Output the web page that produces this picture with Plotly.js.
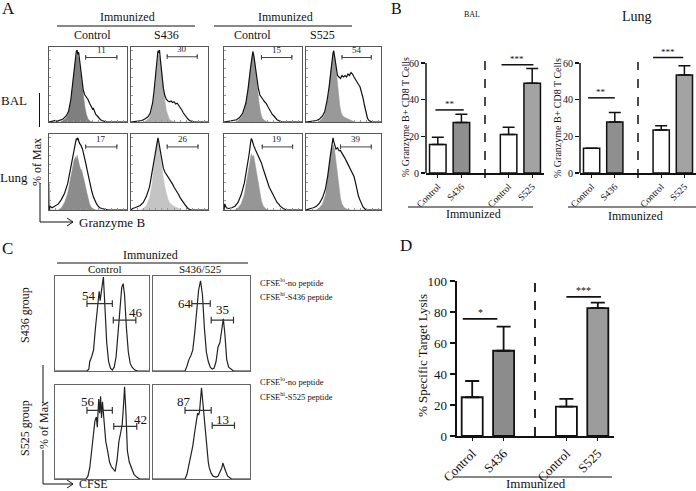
<!DOCTYPE html>
<html><head><meta charset="utf-8">
<script src="https://cdn.plot.ly/plotly-3.0.1.min.js"></script>
<style>html,body{margin:0;padding:0;background:#fff}#chart{width:696px;height:491px}</style>
</head><body><div id="chart"></div>
<script>
// ---------- Panel A: Granzyme B histograms, points = [position across plot %, % of max] ----------
const aBalCtrl1Shaded = [[0,0],[15,0],[18,2],[22,5],[25,12],[28,28],[30,45],[32,65],[34,82],[36,92],[38,85],[40,70],[42,52],[44,35],[46,20],[48,10],[50,4],[53,1],[56,0],[100,0]];
const aBalCtrl1Line   = [[0,0],[5,1],[8,2],[10,1],[14,2],[18,4],[22,8],[25,14],[28,30],[30,48],[32,70],[34,88],[35,94],[36,96],[37,90],[38,93],[40,76],[42,56],[44,42],[46,36],[48,33],[50,30],[52,25],[54,21],[56,17],[57,18],[58,15],[60,10],[62,8],[64,5],[66,3],[68,2],[70,1],[74,0],[100,0]];
const aBalS436Shaded  = [[0,0],[16,0],[20,2],[24,6],[27,15],[30,35],[32,58],[34,80],[35,88],[36,90],[38,82],[40,65],[42,45],[44,28],[46,15],[48,7],[50,3],[54,1],[58,0],[100,0]];
const aBalS436Line    = [[0,0],[6,1],[10,2],[14,2],[18,4],[22,7],[25,12],[28,25],[30,42],[32,65],[34,88],[35,95],[36,92],[37,96],[38,85],[40,65],[42,45],[44,35],[46,30],[48,28],[50,27],[52,28],[54,26],[56,27],[58,24],[60,25],[62,22],[64,20],[66,16],[68,12],[70,9],[72,6],[74,4],[76,2],[78,1],[82,0],[100,0]];
const aBalCtrl2Shaded = [[0,0],[15,0],[18,2],[22,6],[26,15],[29,30],[32,55],[34,75],[36,88],[37,92],[39,85],[41,65],[43,42],[45,25],[47,12],[49,5],[52,2],[56,0],[100,0]];
const aBalCtrl2Line   = [[0,0],[5,1],[8,1],[12,2],[16,3],[20,6],[24,12],[28,25],[31,45],[34,72],[36,88],[37,94],[38,90],[40,75],[42,58],[44,45],[46,36],[48,32],[50,30],[52,27],[54,25],[56,21],[58,17],[60,14],[62,10],[64,8],[66,5],[68,3],[70,2],[74,0],[100,0]];
const aBalS525Shaded  = [[0,0],[16,0],[20,3],[24,8],[27,18],[30,38],[32,60],[34,80],[36,90],[37,92],[39,82],[41,62],[43,40],[45,22],[47,12],[49,8],[52,6],[56,4],[60,2],[65,0],[100,0]];
const aBalS525Line    = [[0,0],[6,1],[10,2],[14,2],[18,4],[22,8],[25,14],[28,28],[31,48],[34,78],[36,92],[37,95],[38,88],[40,72],[42,62],[44,60],[46,58],[48,62],[50,60],[52,62],[54,60],[56,64],[58,62],[60,66],[62,64],[64,60],[66,56],[68,52],[70,50],[72,47],[74,40],[76,32],[78,22],[80,12],[82,5],[84,2],[88,0],[100,0]];
const aLungCtrl1Shaded= [[0,0],[0.5,35],[1.5,0],[12,0],[16,3],[20,10],[24,22],[27,38],[30,55],[32,65],[34,70],[35,66],[36,72],[38,62],[40,55],[42,52],[44,45],[46,35],[48,25],[50,15],[52,8],[54,4],[56,2],[60,0],[100,0]];
const aLungCtrl1Line  = [[0,0],[1,5],[4,3],[8,5],[12,8],[16,14],[20,22],[24,35],[27,50],[30,65],[32,78],[34,88],[35,94],[36,92],[37,95],[39,88],[41,85],[43,80],[45,72],[47,62],[49,52],[51,42],[53,32],[55,24],[57,17],[59,12],[61,8],[63,5],[65,3],[68,2],[72,1],[76,0],[100,0]];
const aLungS436Shaded = [[0,0],[12,0],[16,2],[20,6],[24,16],[27,32],[29,50],[31,70],[33,85],[34,90],[36,86],[38,72],[40,55],[42,42],[44,30],[46,20],[48,14],[50,10],[54,6],[58,4],[62,2],[66,0],[100,0]];
const aLungS436Line   = [[0,0],[2,2],[5,3],[8,4],[12,6],[16,10],[20,18],[24,30],[27,48],[30,68],[32,82],[34,92],[35,95],[36,90],[38,78],[40,65],[42,55],[44,50],[46,47],[48,44],[50,40],[52,38],[54,34],[56,30],[58,27],[60,24],[62,20],[64,16],[66,12],[68,10],[70,7],[72,4],[74,2],[78,0],[100,0]];
const aLungCtrl2Shaded= [[0,0],[14,0],[18,3],[22,8],[26,20],[29,38],[32,58],[34,70],[35,74],[36,70],[38,72],[40,60],[42,48],[44,35],[46,22],[48,12],[50,6],[53,2],[56,0],[100,0]];
const aLungCtrl2Line  = [[0,0],[1,8],[3,3],[6,2],[10,3],[14,5],[18,10],[22,20],[26,35],[29,52],[32,72],[34,88],[35,94],[36,92],[37,88],[38,85],[40,80],[42,76],[44,72],[46,68],[48,62],[50,55],[52,48],[54,42],[56,36],[58,30],[60,26],[62,22],[64,17],[66,13],[68,10],[70,8],[72,5],[76,2],[80,0],[100,0]];
const aLungS525Shaded = [[0,0],[14,0],[18,3],[22,8],[26,20],[29,40],[31,58],[33,75],[35,85],[36,86],[38,80],[40,65],[42,45],[44,28],[46,15],[48,8],[51,3],[55,1],[60,0],[100,0]];
const aLungS525Line   = [[0,0],[2,1],[6,2],[10,3],[14,5],[18,9],[22,16],[26,28],[29,45],[32,68],[34,85],[35,92],[36,95],[37,90],[38,85],[40,80],[42,82],[44,78],[46,78],[48,75],[50,72],[52,68],[54,64],[56,60],[58,54],[60,50],[62,47],[64,44],[66,36],[68,26],[70,18],[72,13],[74,8],[76,4],[78,2],[80,0],[100,0]];
const aGateLabels = ['11','30','15','54','17','26','19','39'];
const aGateLo = [47,47,48,48,47,47,49,46];
const aGateHi = [87,86,87,87,87,87,88,87];
const aGateY  = [86,87,86,86,83,83,83,83];

// ---------- Panel B: % Granzyme B+ CD8 T cells ----------
const bGroups = [['Control','S436'],['Control','S525']];
const bBalMean  = [15.5, 27.5, 21, 49];
const bBalErr   = [4, 4.5, 4, 8];
const bLungMean = [13.5, 27.8, 23.5, 53.5];
const bLungErr  = [0, 5.2, 2.3, 5];
const bTicks = [0, 20, 40, 60];
const bSigLabels = ['**', '***'];
const bBalSigY  = [34.4, 59];
const bLungSigY = [41, 63];

// ---------- Panel C: CFSE histograms ----------
const cS436Ctrl = [[0,0],[34,0],[36,2],[37,10],[39,15],[41,22],[43,45],[45,68],[47,84],[48,74],[50,88],[51.5,99],[53,70],[55,30],[57,10],[59,3],[61,1],[63,4],[65,15],[67,40],[69,70],[71,88],[72.5,92],[74,80],[76,45],[78,20],[80,8],[82,4],[85,1],[88,0],[100,0]];
const cS436Imm  = [[0,0],[33,0],[35,5],[37,12],[39,16],[41,22],[43,40],[45,65],[47,85],[49,95],[51,80],[53,45],[55,20],[57,10],[59,4],[61,2],[63,3],[65,10],[67,25],[69,30],[71,45],[72.5,55],[74,40],[76,12],[78,4],[80,2],[83,0],[100,0]];
const cS525Ctrl = [[0,0],[33,0],[35,3],[37,12],[39,30],[41,50],[42.5,62],[44,66],[45,55],[46.5,85],[47.5,70],[48.5,88],[49.5,65],[50.5,82],[52,60],[54,40],[56,30],[58,18],[60,13],[62,10],[64,8],[66,20],[68,40],[70,50],[71.5,58],[73,80],[74,98],[75.5,70],[77,30],[79,18],[81,12],[84,5],[87,2],[90,0],[100,0]];
const cS525Imm  = [[0,0],[33,0],[35,5],[38,20],[41,35],[43,50],[45,65],[46,70],[47,68],[48,72],[50,97],[52,75],[54,45],[55,35],[57,18],[58,12],[60,6],[62,3],[65,2],[67,3],[69,7],[71,12],[72,17],[73.5,12],[75,8],[77,3],[79,1],[81,0],[100,0]];
const cGate1Lo = [34,40,34,33], cGate1Hi = [61,59,61,60], cGate1Y = [71,71,73,73];
const cGate2Lo = [62,60,62.5,61], cGate2Hi = [86,83,87,84], cGate2Y = [53.5,53.5,56,57];
const cLabels1 = ['54','64','56','87'], cLabel1X = [36,33,35,32], cLabel1Y = [80,71.5,82,82];
const cLabels2 = ['46','35','42','13'], cLabel2X = [86,72,91,72], cLabel2Y = [62,64.5,63,63];

// ---------- Panel D: % specific target lysis ----------
const dGroups = [['Control','S436'],['Control','S525']];
const dMean = [25, 55, 19, 82.5];
const dErr  = [10.5, 15.5, 5, 3.5];
const dSigLabels = ['*', '***'];
const dSigY = [75.5, 89.7];

// ================= build =================
const W = 696, H = 491;
const px = x => x / W, py = y => 1 - y / H;
const FONT = 'Liberation Serif, Times New Roman, serif';
const layout = {width: W, height: H, margin: {l:0, r:0, t:0, b:0}, showlegend: false,
  paper_bgcolor: '#fff', plot_bgcolor: 'rgba(0,0,0,0)', font: {family: FONT, color: '#111'},
  shapes: [], annotations: []};
const traces = [];
let axN = 0;
function addAxes(x0, x1, y0, y1, xo, yo) {
  axN++;
  const s = axN === 1 ? '' : String(axN);
  layout['xaxis' + s] = Object.assign({domain: [px(x0), px(x1)], anchor: 'y' + s, fixedrange: true}, xo);
  layout['yaxis' + s] = Object.assign({domain: [py(y1), py(y0)], anchor: 'x' + s, fixedrange: true}, yo);
  return {x: 'x' + s, y: 'y' + s};
}
function txt(t, x, y, size, opt) {
  layout.annotations.push(Object.assign({text: t, x: px(x), y: py(y), xref: 'paper', yref: 'paper',
    xanchor: 'center', yanchor: 'middle',
    showarrow: false, font: {size: size, family: FONT, color: '#111'}}, opt || {}));
}
function pline(x0, y0, x1, y1, w, extra) {
  layout.shapes.push(Object.assign({type: 'line', xref: 'paper', yref: 'paper', x0: px(x0), y0: py(y0), x1: px(x1), y1: py(y1),
    line: {color: '#111', width: w || 1}}, extra || {}));
}
function ppath(pts, w) {
  const d = pts.map((p, i) => (i ? 'L' : 'M') + px(p[0]) + ',' + py(p[1])).join(' ');
  layout.shapes.push({type: 'path', xref: 'paper', yref: 'paper', path: d, line: {color: '#111', width: w || 1}});
}
function gate(ax, lo, hi, y, cap, color, w) {
  traces.push({type: 'scatter', mode: 'lines', x: [lo, lo, lo, hi, hi, hi], y: [y - cap, y + cap, y, y, y + cap, y - cap],
    xaxis: ax.x, yaxis: ax.y, line: {color: color, width: w}, hoverinfo: 'skip'});
}
const histX = {range: [0, 100], showgrid: false, zeroline: false, showline: true, mirror: true, linecolor: '#555', linewidth: 1,
  ticks: 'inside', ticklen: 2, tickcolor: '#999', dtick: 8, showticklabels: false};
const histY = {range: [0, 100], showgrid: false, zeroline: false, showline: true, mirror: true, linecolor: '#555', linewidth: 1,
  ticks: 'inside', ticklen: 2, tickcolor: '#999', dtick: 12, showticklabels: false};

// ----- Panel A -----
const aCols = [[49,127],[131,208],[224,302],[306,381]];
const aRows = [[47,122],[134,210]];
const aShaded = [aBalCtrl1Shaded, aBalS436Shaded, aBalCtrl2Shaded, aBalS525Shaded, aLungCtrl1Shaded, aLungS436Shaded, aLungCtrl2Shaded, aLungS525Shaded];
const aLines  = [aBalCtrl1Line, aBalS436Line, aBalCtrl2Line, aBalS525Line, aLungCtrl1Line, aLungS436Line, aLungCtrl2Line, aLungS525Line];
const aShadeColors = ['#7f7f7f', '#ababab', '#969696', '#999999', '#8c8c8c', '#c4c4c4', '#969696', '#979797'];
for (let i = 0; i < 8; i++) {
  const r = Math.floor(i / 4), c = i % 4;
  const ax = addAxes(aCols[c][0], aCols[c][1], aRows[r][0], aRows[r][1], histX, histY);
  traces.push({type: 'scatter', mode: 'lines', x: aShaded[i].map(p => p[0]), y: aShaded[i].map(p => p[1]), fill: 'tozeroy',
    fillcolor: aShadeColors[i], line: {color: aShadeColors[i], width: 0.5}, xaxis: ax.x, yaxis: ax.y, hoverinfo: 'skip'});
  traces.push({type: 'scatter', mode: 'lines', x: aLines[i].map(p => p[0]), y: aLines[i].map(p => p[1]),
    line: {color: '#111', width: 1.2}, xaxis: ax.x, yaxis: ax.y, hoverinfo: 'skip'});
  gate(ax, aGateLo[i], aGateHi[i], aGateY[i], 3, '#444', 1);
  layout.annotations.push({text: aGateLabels[i], x: (aGateLo[i] + aGateHi[i]) / 2, y: aGateY[i] + 1, xref: ax.x, yref: ax.y,
    xanchor: 'center', yanchor: 'bottom', showarrow: false, font: {size: 9, family: FONT, color: '#222'}});
}
txt('A', 8, 9, 17);
txt('Immunized', 127, 17, 12); txt('Immunized', 285, 17, 12);
pline(57, 26, 195, 26, 1); pline(214, 26, 352, 26, 1);
txt('Control', 92, 35, 12); txt('S436', 166, 35, 12); txt('Control', 252, 35, 12); txt('S525', 322, 35, 12);
txt('BAL', 14, 100, 13); txt('Lung', 14, 177, 13);
txt('% of Max', 37, 162, 12, {textangle: -90});
pline(39.5, 93, 39.5, 127, 1);
ppath([[40, 183], [40, 222], [73, 222]], 1);
ppath([[67, 218], [73, 222], [67, 226]], 1);
txt('Granzyme B', 77, 222, 13, {xanchor: 'left'});

// ----- Bar chart helper (panels B and D) -----
function barPanel(groups, means, errs, sigLabels, sigY, sigSpans, box, yr, yTicks, opt) {
  const slots = [], labels = [];
  groups.forEach((g, gi) => g.forEach((name, k) => { slots.push(gi * (g.length + 1) + k); labels.push(name); }));
  const nSlots = groups.length * (groups[0].length + 1) - 1;
  const ax = addAxes(box[0], box[1], box[2], box[3],
    {range: [-0.5, nSlots - 0.5], showgrid: false, zeroline: false, showline: true, linecolor: '#111', linewidth: opt.lw,
     tickvals: slots, ticktext: labels, tickangle: -45, ticks: 'outside', ticklen: 3, tickwidth: 1, tickcolor: '#111',
     tickfont: {size: opt.xFont, family: FONT, color: '#111'}},
    {range: yr, showgrid: false, zeroline: false, showline: opt.yLine, linecolor: '#111', linewidth: opt.lw,
     tickvals: yTicks, ticks: 'outside', ticklen: opt.tl, tickwidth: 1.2, tickcolor: '#111',
     tickfont: {size: opt.yFont, family: FONT, color: '#111'}});
  traces.push({type: 'bar', x: slots, y: means, width: opt.bw, xaxis: ax.x, yaxis: ax.y, hoverinfo: 'skip',
    marker: {color: slots.map((s, i) => i % 2 ? opt.grays[Math.floor(i / 2)] : '#ffffff'), line: {color: '#111', width: opt.lw}},
    error_y: {type: 'data', symmetric: false, array: errs, arrayminus: errs.map(() => 0), color: '#111', thickness: opt.lw, width: opt.cap}});
  sigLabels.forEach((lab, i) => {
    const a = slots[i * 2] + sigSpans[i][0], b = slots[i * 2 + 1] + sigSpans[i][1];
    traces.push({type: 'scatter', mode: 'lines', x: [a, b], y: [sigY[i], sigY[i]], xaxis: ax.x, yaxis: ax.y,
      line: {color: '#111', width: opt.lw}, hoverinfo: 'skip'});
    layout.annotations.push({text: lab, x: (a + b) / 2, y: sigY[i], xref: ax.x, yref: ax.y, xanchor: 'center', yanchor: 'bottom', yshift: -1,
      showarrow: false, font: {size: opt.starFont, family: FONT, color: '#111'}});
  });
  // divider between the two immunized groups
  layout.shapes.push({type: 'line', xref: ax.x, yref: 'paper', x0: groups[0].length, x1: groups[0].length,
    y0: py(opt.dash[1]), y1: py(opt.dash[0]), line: {color: '#111', width: opt.lw, dash: 'dash'}});
  if (!opt.yLine) {
    layout.shapes.push({type: 'line', xref: 'paper', yref: ax.y, x0: px(box[0]), x1: px(box[0]), y0: yTicks[0], y1: yTicks[yTicks.length - 1],
      line: {color: '#111', width: opt.lw}});
  }
  return ax;
}

// ----- Panel B -----
const bOpt = {lw: 1.5, xFont: 9.5, yFont: 10, tl: 4, bw: 0.7, cap: 6, starFont: 9, yLine: false, grays: ['#8f8f8f', '#a3a3a3']};
barPanel(bGroups, bBalMean, bBalErr, bSigLabels, bBalSigY, [[-0.1, 0.1], [-0.3, 0.05]], [426, 544, 52, 173], [0, 66], bTicks,
  Object.assign({}, bOpt, {dash: [60, 178]}));
barPanel(bGroups, bLungMean, bLungErr, bSigLabels, bLungSigY, [[-0.15, 0], [-0.35, -0.05]], [580, 696, 52, 173], [0, 66], bTicks,
  Object.assign({}, bOpt, {dash: [62, 178]}));
txt('B', 396, 8, 16);
txt('BAL', 472, 14, 8);
txt('Lung', 637, 17, 14);
txt('% Granzyme B+ CD8 T Cells', 405, 117, 10, {textangle: -90});
txt('% Granzyme B+ CD8 T Cells', 557, 118, 10, {textangle: -90});
pline(408, 207, 533, 207, 1.2); pline(568, 207, 696, 207, 1.2);
txt('Immunized', 473, 214, 12); txt('Immunized', 635, 216, 12);

// ----- Panel C -----
const cCols = [[55,149],[153,250]];
const cRows = [[276,371],[385,479]];
const cCurves = [cS436Ctrl, cS436Imm, cS525Ctrl, cS525Imm];
const cHistX = Object.assign({}, histX, {ticks: '', linecolor: '#666'});
const cHistY = Object.assign({}, histY, {ticks: '', linecolor: '#666'});
for (let i = 0; i < 4; i++) {
  const r = Math.floor(i / 2), c = i % 2;
  const ax = addAxes(cCols[c][0], cCols[c][1], cRows[r][0], cRows[r][1], cHistX, cHistY);
  traces.push({type: 'scatter', mode: 'lines', x: cCurves[i].map(p => p[0]), y: cCurves[i].map(p => p[1]),
    line: {color: '#222', width: 1.2}, xaxis: ax.x, yaxis: ax.y, hoverinfo: 'skip'});
  gate(ax, cGate1Lo[i], cGate1Hi[i], cGate1Y[i], 3.5, '#333', 1.2);
  gate(ax, cGate2Lo[i], cGate2Hi[i], cGate2Y[i], 3.5, '#333', 1.2);
  layout.annotations.push({text: cLabels1[i], x: cLabel1X[i], y: cLabel1Y[i], xref: ax.x, yref: ax.y, showarrow: false,
    xanchor: 'center', yanchor: 'middle', font: {size: 13, family: FONT, color: '#111'}});
  layout.annotations.push({text: cLabels2[i], x: cLabel2X[i], y: cLabel2Y[i], xref: ax.x, yref: ax.y, showarrow: false,
    xanchor: 'center', yanchor: 'middle', font: {size: 13, family: FONT, color: '#111'}});
}
txt('C', 7, 248, 17);
txt('Immunized', 150, 255, 12);
pline(57, 263, 248, 263, 1);
txt('Control', 105, 269, 11); txt('S436/525', 200, 269, 11);
txt('S436 group', 25, 315, 12, {textangle: -90});
txt('S525 group', 25, 428, 12, {textangle: -90});
txt('% of Max', 44, 425, 12, {textangle: -90});
pline(43, 365, 43, 403, 1);
ppath([[43, 450], [43, 484], [73, 484]], 1);
ppath([[67, 480], [73, 484], [67, 488]], 1);
txt('CFSE', 77, 484, 12, {xanchor: 'left'});
txt('CFSE<sup>lo</sup>-no peptide', 258, 282, 8.5, {xanchor: 'left'});
txt('CFSE<sup>hi</sup>-S436 peptide', 258, 296, 8.5, {xanchor: 'left'});
txt('CFSE<sup>lo</sup>-no peptide', 258, 381, 8.5, {xanchor: 'left'});
txt('CFSE<sup>hi</sup>-S525 peptide', 258, 396, 8.5, {xanchor: 'left'});

// ----- Panel D -----
barPanel(dGroups, dMean, dErr, dSigLabels, dSigY, [[-0.3, -0.2], [0, 0.1]], [456.5, 613.5, 281, 436], [0, 100], [0, 20, 40, 60, 80, 100],
  {lw: 1.8, xFont: 13, yFont: 13, tl: 5, bw: 0.67, cap: 7, starFont: 10, yLine: true, grays: ['#8c8c8c', '#9c9c9c'], dash: [282, 436]});
txt('D', 406, 246, 17);
txt('% Specific Target Lysis', 422, 356, 13, {textangle: -90});
pline(453, 477, 612, 477, 1.2);
txt('Immunized', 536, 483, 13);

Plotly.newPlot('chart', traces, layout, {displayModeBar: false, staticPlot: true});
</script>
</body></html>
